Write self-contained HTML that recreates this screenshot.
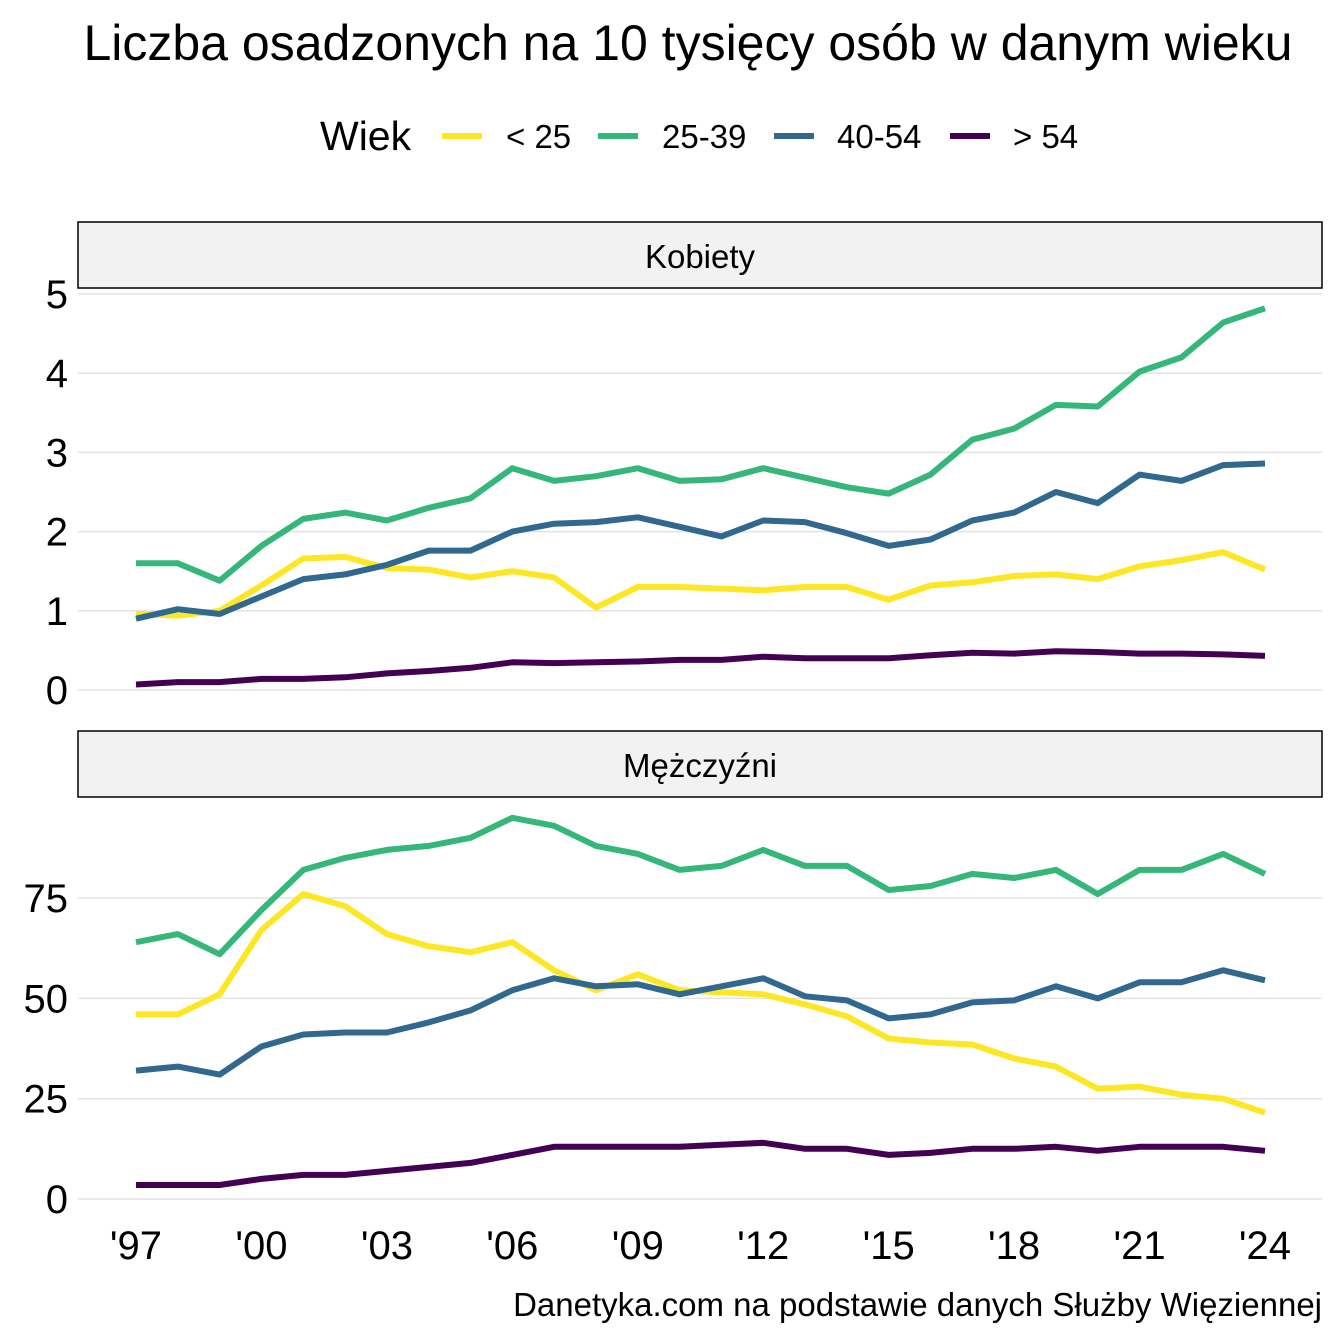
<!DOCTYPE html>
<html><head><meta charset="utf-8"><style>
html,body{margin:0;padding:0;background:#fff;}
svg{display:block;font-family:"Liberation Sans","DejaVu Sans",sans-serif;}
</style></head><body>
<svg id="s" width="1344" height="1344" xmlns="http://www.w3.org/2000/svg">
<rect width="1344" height="1344" fill="#fff"/>
<text x="688" y="60" font-size="50" text-anchor="middle" fill="#000">Liczba osadzonych na 10 tysięcy osób w danym wieku</text>
<text x="320" y="150" font-size="41" fill="#000">Wiek</text>
<line x1="442" y1="136" x2="482" y2="136" stroke="#FDE725" stroke-width="6"/>
<text x="506" y="148" font-size="33">&lt; 25</text>
<line x1="598" y1="136" x2="638" y2="136" stroke="#35B779" stroke-width="6"/>
<text x="662" y="148" font-size="33">25-39</text>
<line x1="774" y1="136" x2="814" y2="136" stroke="#31688E" stroke-width="6"/>
<text x="837" y="148" font-size="33">40-54</text>
<line x1="950" y1="136" x2="990" y2="136" stroke="#440154" stroke-width="6"/>
<text x="1013" y="148" font-size="33">&gt; 54</text>
<rect x="78" y="222" width="1244" height="66" fill="#f2f2f2" stroke="#000" stroke-width="1.5"/>
<text x="700" y="268" font-size="33" text-anchor="middle">Kobiety</text>
<rect x="78" y="731" width="1244" height="66" fill="#f2f2f2" stroke="#000" stroke-width="1.5"/>
<text x="700" y="777" font-size="33" text-anchor="middle">Mężczyźni</text>
<g id="g"></g>
<text x="1322" y="1316" font-size="33" text-anchor="end">Danetyka.com na podstawie danych Służby Więziennej</text>
</svg>
<script>
(function(){
var g=document.getElementById('g'),ns='http://www.w3.org/2000/svg';
function el(t,a,txt){var e=document.createElementNS(ns,t);for(var k in a)e.setAttribute(k,a[k]);if(txt!=null)e.textContent=txt;g.appendChild(e);return e;}
function X(i){return 136+i*1129/27;}
for(var v=0;v<=5;v++){var y=690-v*79.2;el('line',{x1:78,x2:1322,y1:y,y2:y,stroke:'#e3e3e3','stroke-width':1.5});el('text',{x:68,y:y+14,'font-size':40,'text-anchor':'end'},v);}
for(var v=0;v<=75;v+=25){var y=1199-v*4.013;el('line',{x1:78,x2:1322,y1:y,y2:y,stroke:'#e3e3e3','stroke-width':1.5});el('text',{x:68,y:y+14,'font-size':40,'text-anchor':'end'},v);}
var labs=["'97","'00","'03","'06","'09","'12","'15","'18","'21","'24"];
for(var i=0;i<10;i++){el('text',{x:X(i*3),y:1259,'font-size':40,'text-anchor':'middle'},labs[i]);}
var dTop={
'#35B779':[1.6,1.6,1.38,1.82,2.16,2.24,2.14,2.3,2.42,2.8,2.64,2.7,2.8,2.64,2.66,2.8,2.68,2.56,2.48,2.72,3.16,3.3,3.6,3.58,4.02,4.2,4.64,4.82],
'#31688E':[0.9,1.02,0.96,1.18,1.4,1.46,1.58,1.76,1.76,2.0,2.1,2.12,2.18,2.06,1.94,2.14,2.12,1.98,1.82,1.9,2.14,2.24,2.5,2.36,2.72,2.64,2.84,2.86],
'#FDE725':[0.96,0.94,1.0,1.32,1.66,1.68,1.54,1.52,1.42,1.5,1.42,1.04,1.3,1.3,1.28,1.26,1.3,1.3,1.14,1.32,1.36,1.44,1.46,1.4,1.56,1.64,1.74,1.52],
'#440154':[0.07,0.1,0.1,0.14,0.14,0.16,0.21,0.24,0.28,0.35,0.34,0.35,0.36,0.38,0.38,0.42,0.4,0.4,0.4,0.44,0.47,0.46,0.49,0.48,0.46,0.46,0.45,0.43]};
var dBot={
'#35B779':[64,66,61,72,82,85,87,88,90,95,93,88,86,82,83,87,83,83,77,78,81,80,82,76,82,82,86,81],
'#31688E':[32,33,31,38,41,41.5,41.5,44,47,52,55,53,53.5,51,53,55,50.5,49.5,45,46,49,49.5,53,50,54,54,57,54.5],
'#FDE725':[46,46,51,67,76,73,66,63,61.5,64,57,52,56,52,51.5,51,48.5,45.5,40,39,38.5,35,33,27.5,28,26,25,21.5],
'#440154':[3.5,3.5,3.5,5,6,6,7,8,9,11,13,13,13,13,13.5,14,12.5,12.5,11,11.5,12.5,12.5,13,12,13,13,13,12]};
var order=['#FDE725','#35B779','#31688E','#440154'];
function draw(d,y0,s){order.forEach(function(c){var p=d[c].map(function(v,i){return X(i).toFixed(1)+','+(y0-v*s).toFixed(1);}).join(' ');
el('polyline',{points:p,fill:'none',stroke:c,'stroke-width':6,'stroke-linejoin':'round'});});}
draw(dTop,690,79.2);draw(dBot,1199,4.013);
})();
</script>
</body></html>
